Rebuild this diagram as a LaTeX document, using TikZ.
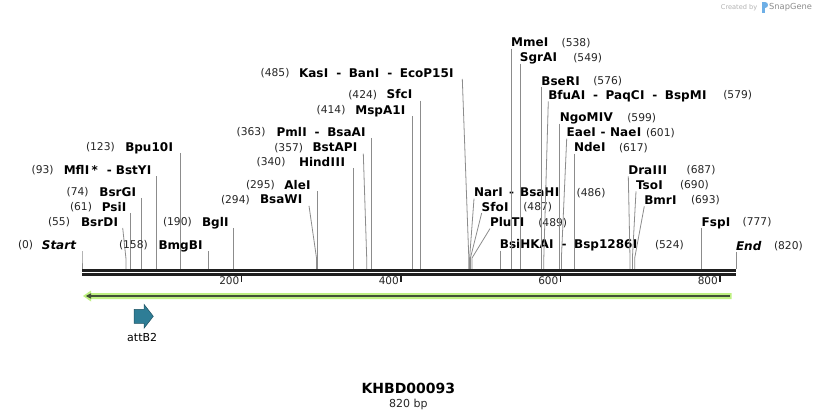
\documentclass[tikz,border=0pt]{standalone}
\usepackage{fontspec}
\setmainfont{DejaVu Sans}
\usetikzlibrary{calc}
\definecolor{cutgray}{RGB}{140,140,140}
\definecolor{featgreen}{RGB}{190,240,130}
\definecolor{featdark}{RGB}{65,80,55}
\definecolor{attteal}{RGB}{46,125,150}
\definecolor{logoblue}{RGB}{110,175,230}
\newcommand\sepr{\hspace{6pt}-\hspace{6pt}}
\newcommand\seprw{\hspace{7.6pt}-\hspace{7.6pt}}
\newcommand\seprn{\hspace{4.5pt}-\hspace{4.5pt}}
\newcommand\wI{\makebox[\dimexpr\fontcharwd\font`I+0.6pt\relax][c]{I}}
% #1 id, #2 cy, #3 pos start x, #4 pos, #5 name end x, #6 name, #7 line top x, #8 site x
\newcommand\LeftSite[8]{%
  \node[postext,anchor=west] (p#1) at (#3,#2) {(#4)};
  \node[nametext,anchor=east] (n#1) at (#5,#2) {#6};
  \coordinate (t#1) at (#7,#2+6.3);
  \coordinate (b#1) at (#8,269);
  \draw[cutline] (t#1) -- (#8,258) -- (b#1);}
% #1 id, #2 cy, #3 name start x, #4 name, #5 pos start x, #6 pos, #7 site x
\newcommand\RightSite[7]{%
  \node[nametext,anchor=west] (n#1) at (#3,#2) {#4};
  \node[postext,anchor=west] (p#1) at (#5,#2) {(#6)};
  \coordinate (t#1) at (#3,#2+6.3);
  \coordinate (b#1) at (#7,269);
  \draw[cutline] (t#1) -- (#7,258) -- (b#1);}
\begin{document}
\begin{tikzpicture}[x=1pt,y=-1pt,
  nametext/.style={inner sep=0pt,outer sep=0pt,font=\fontsize{12}{14}\selectfont\bfseries,text height=8.75pt,text depth=0pt},
  postext/.style={inner sep=0pt,outer sep=0pt,font=\fontsize{10.7}{13}\selectfont,text height=7.8pt,text depth=0pt,text=black!85},
  cutline/.style={draw=cutgray,line width=0.8pt},
  backbone/.style={draw=black!88,line width=2.7pt},
  tickmark/.style={draw=black!88,line width=1.8pt},
  ticktext/.style={inner sep=0pt,font=\fontsize{10.5}{12}\selectfont,text height=7.6pt,text depth=0pt,text=black!85}]
\useasboundingbox[fill=white] (0,0) rectangle (818,419);

% logo
\node[inner sep=0pt,anchor=west,text=black!30,font=\fontsize{6.6}{8}\selectfont] (created) at (720.7,7.5) {Created by};
\fill[logoblue] (762,2.5) rectangle (764.6,13.5);
\fill[logoblue] (764.6,2.5) .. controls (768.5,2.5) and (768.5,8.5) .. (764.6,8.5) -- cycle;
\node[inner sep=0pt,anchor=west,text=black!45,font=\fontsize{8.3}{10}\selectfont] (snapgene) at (769,7.5) {SnapGene};

% backbone
\coordinate (bbL1) at (82,270.3); \coordinate (bbR1) at (736,270.3);
\coordinate (bbL2) at (82,274.4); \coordinate (bbR2) at (736,274.4);
\draw[backbone] (bbL1) -- (bbR1);
\draw[backbone] (bbL2) -- (bbR2);

% ticks
\foreach \v in {200,400,600,800}{
  \pgfmathsetmacro\tx{82+\v*0.79756}
  \coordinate (tkA\v) at (\tx,275.5);
  \coordinate (tkB\v) at (\tx,282);
  \draw[tickmark] (tkA\v) -- (tkB\v);
  \node[ticktext,anchor=east] (tk\v) at (\tx-2,280.5) {\v};
}

% left labels
\LeftSite{0}{245}{18}{0}{76}{\itshape Start}{82}{82}
\LeftSite{55}{221.7}{48}{55}{118.3}{BsrD\wI}{122.7}{125.9}
\LeftSite{61}{206.7}{70}{61}{126.7}{Psi\wI}{130.8}{130.8}
\LeftSite{74}{191.7}{66.7}{74}{136.5}{BsrG\wI}{141.2}{141.2}
\LeftSite{93}{170}{31.7}{93}{151.7}{Mfl\wI\hspace{2pt}*\hspace{9pt}-\hspace{4pt}BstY\wI}{156.4}{156.4}
\LeftSite{123}{146.7}{86}{123}{173.3}{Bpu10\wI}{180.3}{180.3}
\LeftSite{158}{245}{119}{158}{203}{BmgB\wI}{208.2}{208.2}
\LeftSite{190}{221.7}{163}{190}{229}{Bgl\wI}{233.5}{233.5}
\LeftSite{294}{199.5}{221}{294}{302.7}{BsaW\wI}{309}{316.5}
\LeftSite{295}{185}{246}{295}{311}{Ale\wI}{317.3}{317.3}
\LeftSite{340}{161.7}{256.7}{340}{345.5}{Hind\wI\wI\wI}{353.2}{353.2}
\LeftSite{357}{147.3}{274.3}{357}{357.7}{BstAP\wI}{363.3}{366.7}
\LeftSite{363}{131.7}{236.7}{363}{366}{Pml\wI\seprw BsaA\wI}{371.5}{371.5}
\LeftSite{414}{110}{316.7}{414}{405.7}{MspA1\wI}{412.2}{412.2}
\LeftSite{424}{94.3}{348.3}{424}{412.7}{Sfc\wI}{420.2}{420.2}
\LeftSite{485}{72.7}{260.7}{485}{454}{Kas\wI\seprw Ban\wI\seprw EcoP15\wI}{462.3}{468.8}

% right labels
\RightSite{486}{192.3}{474}{Nar\wI\sepr BsaH\wI}{576.7}{486}{469.6}
\RightSite{487}{206.7}{481.7}{Sfo\wI}{523.3}{487}{470.4}
\RightSite{489}{222.3}{490}{PluT\wI}{538.3}{489}{472}
\RightSite{524}{244.3}{499.9}{BsiHKA\wI\seprw Bsp1286\wI}{655}{524}{499.9}
\RightSite{538}{42.3}{511.1}{Mme\wI}{561.7}{538}{511.1}
\RightSite{549}{57.3}{519.9}{SgrA\wI}{573.3}{549}{519.9}
\RightSite{576}{80.7}{541.4}{BseR\wI}{593.3}{576}{541.4}
\RightSite{579}{95}{548.3}{BfuA\wI\seprw PaqC\wI\seprw BspM\wI}{723.3}{579}{543.8}
\RightSite{599}{117.3}{559.8}{NgoM\wI V}{627.3}{599}{559.8}
\RightSite{601}{132.3}{566.7}{Eae\wI\seprn Nae\wI}{646}{601}{561.4}
\RightSite{617}{147.3}{574.1}{Nde\wI}{619}{617}{574.1}
\RightSite{687}{170}{628.3}{Dra\wI\wI\wI}{686.7}{687}{630}
\RightSite{690}{185}{636}{Tso\wI}{680}{690}{632.4}
\RightSite{693}{200}{644.3}{Bmr\wI}{691}{693}{634.7}
\RightSite{777}{221.7}{701.7}{Fsp\wI}{742.7}{777}{701.7}
\RightSite{820}{245.7}{736}{\itshape End}{774}{820}{736}

% feature arrow (green, pointing left)
\fill[featgreen] (731.5,293) -- (731.5,299) -- (91,299) -- (91,301.5) -- (83,296)
  -- (91,290.5) -- (91,293) -- cycle;
\coordinate (grR) at (729.5,296); \coordinate (grL) at (90,296);
\draw[featdark,line width=1.8pt] (grR) -- (grL);
\fill[featdark] (85.8,296) -- (91,293.3) -- (91,298.7) -- cycle;

% attB2 feature
\draw[fill=attteal,draw=attteal!65!black,line width=0.5pt,line join=miter]
  (134,309.3) -- (144,309.3) -- (144,304.3) -- (153.3,316.3) -- (144,328.3)
  -- (144,323.3) -- (134,323.3) -- cycle;
\node[inner sep=0pt,font=\fontsize{11}{13}\selectfont,text height=8pt,text depth=0pt] (attlab) at (142.2,337) {attB2};

% title
\node[inner sep=0pt,font=\fontsize{14}{16}\selectfont\bfseries,text height=10.2pt,text depth=0pt] (title) at (408.3,388.3) {KHBD00093};
\node[inner sep=0pt,font=\fontsize{11}{13}\selectfont,text height=8pt,text depth=0pt,text=black!85] (bp) at (408.3,403.5) {820 bp};
\end{tikzpicture}
\end{document}
